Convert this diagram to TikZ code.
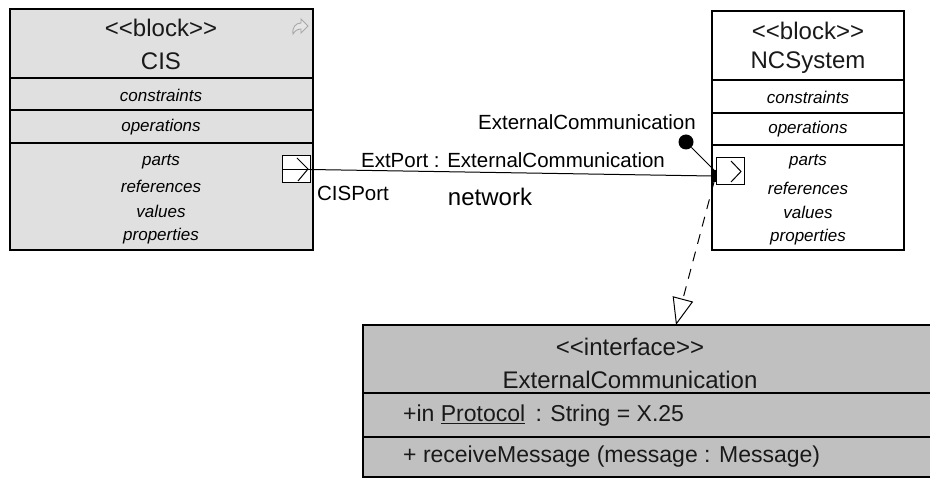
\documentclass[tikz,border=0pt]{standalone}
\usepackage{fontspec}
\setmainfont{Liberation Sans}
\usetikzlibrary{arrows.meta}
\definecolor{cisgray}{HTML}{E0E0E0}
\definecolor{ifgray}{HTML}{C0C0C0}
\definecolor{icongray}{HTML}{A8A8A8}
\newcommand{\lguil}{<\kern0pt<}
\newcommand{\rguil}{>\kern0pt>}
\begin{document}
\begin{tikzpicture}[x=1pt,y=-1pt,
  box/.style={draw=black, line width=1.1pt, inner sep=0pt, outer sep=0pt, anchor=north west},
  portbox/.style={draw=black, line width=1pt, fill=white, inner sep=0pt, outer sep=0pt, anchor=north west, minimum width=28pt, minimum height=27pt},
  sepline/.style={line width=1.1pt},
  hdr/.style={font=\fontsize{24}{26}\selectfont, inner sep=0pt, text=black!90},
  comp/.style={font=\fontsize{17}{19}\selectfont\itshape, inner sep=0pt},
  lbl/.style={font=\fontsize{20.5}{22}\selectfont, inner sep=0pt},
  body/.style={font=\fontsize{23}{25}\selectfont, inner sep=0pt, anchor=west, text=black!90},
  conn/.style={line width=1pt}
]
\useasboundingbox (0,0) rectangle (930,478);
\fill[white] (0,0) rectangle (930,478);

% ---------- CIS block ----------
\node[box, fill=cisgray, minimum width=303pt, minimum height=241pt] (cis) at (10,9) {};
\draw[sepline] (10,78) -- (313,78);
\draw[sepline] (10,110) -- (313,110);
\draw[sepline] (10,143) -- (313,143);
\node[hdr] (cisst) at (161,28) {\lguil block\rguil};
\node[hdr] (cisname) at (161,61) {CIS};
\node[comp] (ciscon) at (161,95) {constraints};
\node[comp] (cisop) at (161,127) {operations};
\node[comp] (cispa) at (161,162) {parts};
\node[comp] (cisre) at (161,186) {references};
\node[comp] (cisva) at (161,211) {values};
\node[comp] (cispr) at (161,236) {properties};
% icon
\draw[icongray, line width=0.9pt, fill=icongray!30]
  (293,34) .. controls (292,27) and (296,23) .. (301,23) -- (301,19) -- (308,26) -- (301,33) -- (301,29)
  .. controls (297,29) and (295,31) .. (293,34) -- cycle;

% ---------- NCSystem block ----------
\node[box, fill=white, minimum width=192pt, minimum height=239pt] (nc) at (712,11) {};
\draw[sepline] (712,80) -- (904,80);
\draw[sepline] (712,113) -- (904,113);
\draw[sepline] (712,145) -- (904,145);
\node[hdr] (ncst) at (808,31) {\lguil block\rguil};
\node[hdr] (ncname) at (808,63) {NCSystem};
\node[comp] (nccon) at (808,97) {constraints};
\node[comp] (ncop) at (808,129) {operations};
\node[comp] (ncpa) at (808,162) {parts};
\node[comp] (ncre) at (808,188) {references};
\node[comp] (ncva) at (808,212) {values};
\node[comp] (ncpr) at (808,237) {properties};

% ---------- Interface ----------
\node[box, fill=ifgray, minimum width=600pt, minimum height=152pt] (iface) at (363,325) {};
\draw[sepline] (363,393) -- (935,393);
\draw[sepline] (363,437) -- (935,437);
\node[hdr] (ifst) at (630,347) {\lguil interface\rguil};
\node[hdr] (ifname) at (630,380) {ExternalCommunication};
\node[body] (ifattr) at (403,416) {+in \underline{Protocol}\, : String = X.25};
\node[body] (ifop) at (403,457) {+ receiveMessage (message : Message)};

% ---------- Ports ----------
\node[portbox] (cisport) at (282,156) {};
\draw[conn] (cisport.west) -- (cisport.east);
\draw[conn] (297,158) -- (308,169) -- (298,181);
\node[portbox] (ncport) at (716,158) {};
\draw[conn] (731,161) -- (741,171.5) -- (731,182);
\node[fill=black, minimum width=4pt, minimum height=12pt, inner sep=0pt, outer sep=0pt, anchor=north west] (ncend) at (712,170) {};

% ---------- Connector ----------
\draw[conn] (cisport.east) -- (ncend.west);
\node[circle, fill=black, minimum size=15pt, inner sep=0pt] (ball) at (686,142) {};
\draw[conn] (ball) -- (ncend.north);
\coordinate (tip) at (676,325);
\draw[conn, dash pattern=on 10pt off 8pt, -{Triangle[open, length=27pt, width=21pt]}] (ncend.south) -- (tip);

% ---------- Labels ----------
\node[lbl] (lblif) at (587,122) {ExternalCommunication};
\node[lbl] (lblext) at (513,160) {ExtPort : ExternalCommunication};
\node[lbl] (lblcis) at (353,193) {CISPort};
\node[lbl, font=\fontsize{24}{26}\selectfont] (lblnet) at (490,197) {network};
\end{tikzpicture}
\end{document}
